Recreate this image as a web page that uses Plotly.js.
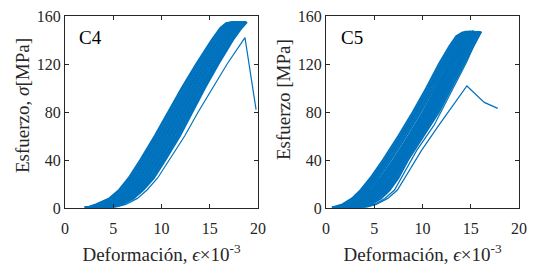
<!DOCTYPE html>
<html>
<head>
<meta charset="utf-8">
<script src="https://cdn.plot.ly/plotly-3.0.1.min.js"></script>
<style>html,body{margin:0;padding:0;background:#fff;}#chart{width:536px;height:270px;}</style>
</head>
<body>
<div id="chart"></div>
<script>
// ---------- C4 panel: stress levels (MPa) shared by the main curves ----------
var c4Stress = [0.5, 1, 3, 8, 15, 25, 40, 60, 80, 100, 120, 140, 150, 154, 155];
// strain (x10^-3) of each test curve at those stress levels
var c4Strain01 = [2.0, 2.5, 3.2, 4.6, 5.6, 6.6, 7.8, 9.3, 10.7, 12.1, 13.6, 15.2, 16.1, 16.7, 17.4];
var c4Strain02 = [2.1, 2.7, 3.4, 4.8, 5.8, 6.8, 8.0, 9.4, 10.8, 12.2, 13.7, 15.3, 16.2, 16.8, 17.5];
var c4Strain03 = [2.3, 2.9, 3.7, 5.0, 6.0, 7.0, 8.2, 9.7, 11.1, 12.5, 14.0, 15.6, 16.5, 17.1, 17.8];
var c4Strain04 = [2.4, 3.1, 3.9, 5.2, 6.2, 7.2, 8.4, 9.9, 11.3, 12.7, 14.2, 15.8, 16.7, 17.3, 17.9];
var c4Strain05 = [2.6, 3.3, 4.1, 5.4, 6.4, 7.4, 8.6, 10.1, 11.5, 12.9, 14.4, 16.0, 16.9, 17.5, 18.1];
var c4Strain06 = [2.7, 3.4, 4.3, 5.6, 6.6, 7.6, 8.8, 10.3, 11.7, 13.1, 14.6, 16.2, 17.1, 17.6, 18.2];
var c4Strain07 = [2.9, 3.6, 4.5, 5.8, 6.8, 7.8, 9.0, 10.5, 11.9, 13.3, 14.8, 16.4, 17.3, 17.8, 18.3];
var c4Strain08 = [3.0, 3.8, 4.7, 6.0, 7.0, 8.0, 9.2, 10.7, 12.1, 13.5, 15.0, 16.6, 17.5, 18.0, 18.4];
var c4Strain09 = [3.1, 3.9, 4.9, 6.2, 7.2, 8.2, 9.4, 10.9, 12.3, 13.7, 15.2, 16.8, 17.7, 18.1, 18.5];
var c4Strain10 = [3.2, 4.1, 5.1, 6.4, 7.4, 8.4, 9.6, 11.1, 12.5, 13.9, 15.4, 17.0, 17.8, 18.3, 18.6];
var c4Strain11 = [3.3, 4.3, 5.3, 6.6, 7.6, 8.6, 9.8, 11.3, 12.7, 14.1, 15.6, 17.1, 18.0, 18.4, 18.7];
var c4Strain12 = [3.4, 4.5, 5.5, 6.8, 7.8, 8.8, 10.0, 11.5, 12.9, 14.3, 15.7, 17.2, 18.1, 18.5, 18.75];
var c4Strain13 = [3.5, 4.7, 5.7, 7.0, 8.0, 9.0, 10.2, 11.7, 13.0, 14.4, 15.8, 17.3, 18.2, 18.6, 18.8];
var c4Strain14 = [3.6, 5.0, 5.9, 7.1, 8.1, 9.2, 10.4, 11.9, 13.2, 14.5, 15.9, 17.4, 18.3, 18.7, 18.85];
var c4Strain15 = [2.2, 2.8, 3.5, 4.9, 5.9, 6.9, 8.1, 9.6, 11.0, 12.4, 13.9, 15.5, 16.4, 17.0, 17.7];
var c4Strain16 = [2.5, 3.2, 4.0, 5.3, 6.3, 7.3, 8.5, 10.0, 11.4, 12.8, 14.3, 15.9, 16.8, 17.4, 18.0];
var c4Strain17 = [2.8, 3.5, 4.4, 5.7, 6.7, 7.7, 8.9, 10.4, 11.8, 13.2, 14.7, 16.3, 17.2, 17.7, 18.25];
var c4Strain18 = [3.05, 3.85, 4.8, 6.1, 7.1, 8.1, 9.3, 10.8, 12.2, 13.6, 15.1, 16.7, 17.6, 18.05, 18.45];
var c4Strain19 = [3.25, 4.2, 5.2, 6.5, 7.5, 8.5, 9.7, 11.2, 12.6, 14.0, 15.5, 17.05, 17.9, 18.35, 18.65];
var c4Strain20 = [3.45, 4.6, 5.6, 6.9, 7.9, 8.9, 10.1, 11.6, 12.95, 14.35, 15.75, 17.25, 18.15, 18.55, 18.78];
// C4 specimen that failed early
var c4OutStrain = [3.8, 5.3, 6.3, 7.5, 8.5, 9.6, 10.8, 12.4, 13.8, 15.3, 16.8, 18.65, 19.8];
var c4OutStress = [0.5, 1, 3, 8, 15, 25, 40, 60, 80, 100, 120, 142, 82];

// ---------- C5 panel ----------
var c5Stress = [0.5, 1, 3, 8, 15, 25, 40, 60, 80, 100, 120, 135, 143, 146, 147];
var c5Strain01 = [0.6, 0.9, 1.7, 2.7, 3.6, 4.6, 5.9, 7.5, 9.0, 10.4, 11.7, 12.8, 13.5, 14.1, 14.6];
var c5Strain02 = [0.7, 1.1, 1.9, 2.9, 3.8, 4.8, 6.1, 7.7, 9.2, 10.6, 11.9, 13.0, 13.7, 14.3, 14.8];
var c5Strain03 = [0.8, 1.3, 2.1, 3.1, 4.0, 5.0, 6.3, 7.9, 9.4, 10.8, 12.1, 13.2, 13.9, 14.5, 15.0];
var c5Strain04 = [1.0, 1.5, 2.4, 3.4, 4.4, 5.4, 6.7, 8.3, 9.8, 11.2, 12.4, 13.5, 14.2, 14.7, 15.2];
var c5Strain05 = [1.2, 1.8, 2.8, 3.9, 4.9, 5.9, 7.2, 8.8, 10.3, 11.6, 12.8, 13.8, 14.4, 14.9, 15.3];
var c5Strain06 = [1.4, 2.1, 3.1, 4.2, 5.2, 6.2, 7.5, 9.1, 10.6, 11.9, 13.1, 14.0, 14.6, 15.1, 15.4];
var c5Strain07 = [1.6, 2.4, 3.4, 4.5, 5.5, 6.5, 7.7, 9.3, 10.8, 12.1, 13.3, 14.3, 14.9, 15.3, 15.5];
var c5Strain08 = [1.9, 2.7, 3.7, 4.8, 5.8, 6.8, 7.9, 9.5, 11.0, 12.3, 13.6, 14.5, 15.1, 15.5, 15.7];
var c5Strain09 = [2.2, 3.0, 4.0, 5.1, 6.1, 7.0, 8.1, 9.7, 11.2, 12.6, 13.9, 14.8, 15.4, 15.7, 15.9];
var c5Strain10 = [2.6, 3.4, 4.4, 5.4, 6.4, 7.3, 8.3, 9.9, 11.5, 12.8, 14.1, 15.0, 15.6, 15.9, 16.0];
var c5Strain11 = [3.0, 3.8, 4.7, 5.7, 6.6, 7.5, 8.5, 10.1, 11.7, 13.0, 14.3, 15.2, 15.8, 16.0, 16.1];
var c5Strain12 = [0.75, 1.2, 2.0, 3.0, 3.9, 4.9, 6.2, 7.8, 9.3, 10.7, 12.0, 13.1, 13.8, 14.4, 14.9];
var c5Strain13 = [1.1, 1.65, 2.6, 3.65, 4.65, 5.65, 6.95, 8.55, 10.05, 11.4, 12.6, 13.65, 14.3, 14.8, 15.25];
var c5Strain14 = [1.5, 2.25, 3.25, 4.35, 5.35, 6.35, 7.6, 9.2, 10.7, 12.0, 13.2, 14.15, 14.75, 15.2, 15.45];
var c5Strain15 = [2.05, 2.85, 3.85, 4.95, 5.95, 6.9, 8.0, 9.6, 11.1, 12.45, 13.75, 14.65, 15.25, 15.6, 15.8];
var c5Strain16 = [2.4, 3.2, 4.2, 5.25, 6.25, 7.15, 8.2, 9.8, 11.35, 12.7, 14.0, 14.9, 15.5, 15.8, 15.95];
var c5Strain17 = [0.9, 1.4, 2.25, 3.25, 4.2, 5.2, 6.5, 8.1, 9.6, 11.0, 12.25, 13.35, 14.05, 14.6, 15.1];
var c5Strain18 = [1.15, 1.7, 2.7, 3.8, 4.8, 5.8, 7.1, 8.7, 10.2, 11.5, 12.7, 13.7, 14.35, 14.85, 15.3];
var c5Strain19 = [1.3, 1.95, 2.95, 4.05, 5.05, 6.05, 7.35, 8.95, 10.45, 11.75, 12.95, 13.9, 14.5, 15.0, 15.35];
var c5Strain20 = [1.75, 2.55, 3.55, 4.65, 5.65, 6.65, 7.8, 9.4, 10.9, 12.2, 13.45, 14.4, 15.0, 15.4, 15.6];
// two C5 specimens away from the bundle
var c5OutAStrain = [3.4, 4.3, 5.2, 6.4, 7.4, 8.4, 9.9, 11.7, 13.1, 14.6, 16.4, 17.8];
var c5OutAStress = [0.5, 1, 3, 8, 15, 28, 48, 69, 85, 101.7, 88, 83];
var c5OutBStrain = [3.2, 4.1, 5.0, 6.1, 7.1, 8.0, 9.4, 11.2, 12.4, 13.6, 14.6, 15.3, 15.9, 16.1];
var c5OutBStress = [0.5, 1, 3, 8, 15, 28, 48, 69, 88, 106, 122, 135, 144, 147];

var c4Curves = [c4Strain01, c4Strain02, c4Strain03, c4Strain04, c4Strain05, c4Strain06, c4Strain07,
                c4Strain08, c4Strain09, c4Strain10, c4Strain11, c4Strain12, c4Strain13, c4Strain14,
                c4Strain15, c4Strain16, c4Strain17, c4Strain18, c4Strain19, c4Strain20];
var c5Curves = [c5Strain01, c5Strain02, c5Strain03, c5Strain04, c5Strain05, c5Strain06,
                c5Strain07, c5Strain08, c5Strain09, c5Strain10, c5Strain11, c5Strain12,
                c5Strain13, c5Strain14, c5Strain15, c5Strain16, c5Strain17, c5Strain18,
                c5Strain19, c5Strain20];

var xTicks = [0, 5, 10, 15, 20];
var yTicks = [0, 40, 80, 120, 160];
var panelLabels = ['C4', 'C5'];
var xTitle = 'Deformación, <i>ϵ</i>×10<sup>-3</sup>';
var yTitles = ['Esfuerzo, <i>σ</i>[MPa]', 'Esfuerzo [MPa]'];

var BLUE = '#0072BD';
var FONT = 'Liberation Serif, Times New Roman, serif';
var INK = '#262626';

function line(x, y, xa, ya, w) {
  return {x: x, y: y, xaxis: xa, yaxis: ya, type: 'scatter', mode: 'lines',
          line: {color: BLUE, width: w}, showlegend: false, hoverinfo: 'skip'};
}

var traces = [];
c4Curves.forEach(function (s) { traces.push(line(s, c4Stress, 'x', 'y', 2.1)); });
traces.push(line(c4OutStrain, c4OutStress, 'x', 'y', 1.2));
c5Curves.forEach(function (s) { traces.push(line(s, c5Stress, 'x2', 'y2', 2.1)); });
traces.push(line(c5OutAStrain, c5OutAStress, 'x2', 'y2', 1.2));
traces.push(line(c5OutBStrain, c5OutBStress, 'x2', 'y2', 1.2));

function xAxis(domain, anchor) {
  return {domain: domain, anchor: anchor, range: [0, 20], tickvals: xTicks, ticks: 'inside',
          ticklen: 4, tickcolor: INK, mirror: 'allticks', showline: true, linecolor: INK, linewidth: 1,
          showgrid: false, zeroline: false, ticklabelstandoff: 6,
          tickfont: {family: FONT, size: 16, color: INK},
          title: {text: xTitle, font: {family: FONT, size: 19, color: INK}, standoff: 11}};
}
function yAxis(domain, anchor) {
  return {domain: domain, anchor: anchor, range: [0, 160], tickvals: yTicks, ticks: 'inside',
          ticklen: 4, tickcolor: INK, mirror: 'allticks', showline: true, linecolor: INK, linewidth: 1,
          showgrid: false, zeroline: false, tickfont: {family: FONT, size: 16, color: INK}};
}

var yDom = [1 - 208 / 270, 1 - 16 / 270];
function ann(text, px, py, size, angle) {
  return {text: text, xref: 'paper', yref: 'paper', x: px / 536, y: 1 - py / 270, showarrow: false,
          xanchor: 'center', yanchor: 'middle', textangle: angle,
          font: {family: FONT, size: size, color: angle ? INK : '#000'}};
}
var layout = {
  width: 536, height: 270,
  margin: {l: 0, r: 0, t: 0, b: 0},
  paper_bgcolor: '#fff', plot_bgcolor: '#fff',
  xaxis: xAxis([65 / 536, 258 / 536], 'y'),
  yaxis: yAxis(yDom, 'x'),
  xaxis2: xAxis([326 / 536, 519 / 536], 'y2'),
  yaxis2: yAxis(yDom, 'x2'),
  annotations: [
    ann(panelLabels[0], 90, 38, 19, 0),
    ann(panelLabels[1], 352, 38, 19, 0),
    ann(yTitles[0], 22, 106, 19, -90),
    ann(yTitles[1], 283, 100, 19, -90)
  ]
};

Plotly.newPlot('chart', traces, layout, {displayModeBar: false, staticPlot: true});
</script>
</body>
</html>
